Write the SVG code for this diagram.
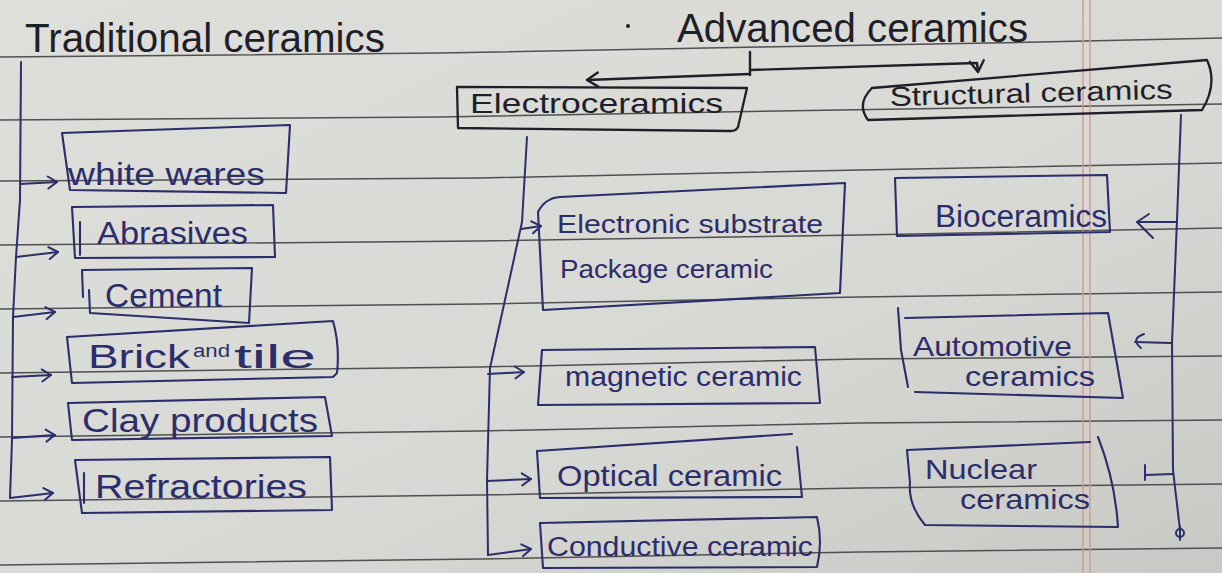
<svg xmlns="http://www.w3.org/2000/svg" width="1222" height="573" viewBox="0 0 1222 573">
  <defs>
    <linearGradient id="paper" x1="0" y1="0" x2="1" y2="1">
      <stop offset="0" stop-color="#dededa"/>
      <stop offset="0.6" stop-color="#d8d8d4"/>
      <stop offset="1" stop-color="#c8c8c4"/>
    </linearGradient>
    <marker id="chev" markerUnits="userSpaceOnUse" markerWidth="16" markerHeight="16" refX="12" refY="8" orient="auto">
      <path d="M3,2 L12,8 L3,14" fill="none" stroke="#2b2e6b" stroke-width="2" stroke-linecap="round" stroke-linejoin="round"/>
    </marker>
    <marker id="chevDark" markerUnits="userSpaceOnUse" markerWidth="18" markerHeight="18" refX="13" refY="9" orient="auto">
      <path d="M2,2 L13,9 L2,16" fill="none" stroke="#1f1f2a" stroke-width="2.4" stroke-linecap="round" stroke-linejoin="round"/>
    </marker>
  </defs>
  <style>
    .rule { stroke: #505050; stroke-width: 1.5; fill: none; }
    .margin { stroke: #d49a8f; stroke-width: 1.4; fill: none; }
    .box { fill: none; stroke: #2b2e6b; stroke-width: 2.1; stroke-linejoin: round; stroke-linecap: round; }
    .boxDark { fill: none; stroke: #1f1f2a; stroke-width: 2.3; stroke-linejoin: round; stroke-linecap: round; }
    .wire { fill: none; stroke: #2b2e6b; stroke-width: 2; stroke-linejoin: round; stroke-linecap: round; }
    .wireDark { fill: none; stroke: #1f1f2a; stroke-width: 2.4; stroke-linejoin: round; stroke-linecap: round; }
    .t { font-family: "Liberation Sans", "DejaVu Sans", sans-serif; fill: #2b2e6b; }
    .h { font-family: "Liberation Sans", "DejaVu Sans", sans-serif; fill: #1f1f2a; }
  </style>

  <!-- paper -->
  <rect x="0" y="0" width="1222" height="573" fill="url(#paper)"/>
  <g id="ruling">
    <path class="rule" d="M0,57 L440,53 L760,47 L1040,42 L1222,38"/>
    <path class="rule" d="M0,120 L440,117 L840,110 L1222,104"/>
    <path class="rule" d="M0,181 L480,178 L860,170 L1222,163"/>
    <path class="rule" d="M0,245 L480,241 L860,235 L1222,228"/>
    <path class="rule" d="M0,309 L480,304 L860,297 L1222,292"/>
    <path class="rule" d="M0,373 L480,367 L860,359 L1222,356"/>
    <path class="rule" d="M0,437 L480,431 L860,423 L1222,420"/>
    <path class="rule" d="M0,501 L480,495 L860,488 L1222,484"/>
    <path class="rule" d="M0,565 L480,559 L860,552 L1222,548"/>
    <line class="margin" x1="1083" y1="0" x2="1083" y2="573"/>
    <line class="margin" x1="1090" y1="0" x2="1090" y2="573"/>
  </g>

  <!-- connectors -->
  <g id="connectors">
    <!-- Traditional ceramics trunk -->
    <path class="wire" d="M21,62 L20,200 L16,257 L13,317 L12,440 L10,498"/>
    <path class="wire" d="M20,184 L57,182" marker-end="url(#chev)"/>
    <path class="wire" d="M16,257 L58,252" marker-end="url(#chev)"/>
    <path class="wire" d="M13,317 L55,312" marker-end="url(#chev)"/>
    <path class="wire" d="M12,377 L51,375" marker-end="url(#chev)"/>
    <path class="wire" d="M12,438 L55,435" marker-end="url(#chev)"/>
    <path class="wire" d="M10,498 L53,493" marker-end="url(#chev)"/>

    <!-- Advanced ceramics split -->
    <path class="wireDark" d="M750,52 L750,75"/>
    <path class="wireDark" d="M750,74 L587,80" marker-end="url(#chevDark)"/>
    <path class="wireDark" d="M750,70 L977,63 L978,72" marker-end="url(#chevDark)"/>

    <!-- Electroceramics trunk -->
    <path class="wire" d="M527,137 L522,222 L505,300 L490,368 L487,480 L488,555"/>
    <path class="wire" d="M521,229 L541,226" marker-end="url(#chev)"/>
    <path class="wire" d="M488,374 L524,372" marker-end="url(#chev)"/>
    <path class="wire" d="M487,481 L531,479" marker-end="url(#chev)"/>
    <path class="wire" d="M488,555 L531,549" marker-end="url(#chev)"/>

    <!-- Structural ceramics trunk -->
    <path class="wire" d="M1181,115 L1177,220 L1172,343 L1173,470 L1180,530"/>
    <circle class="wire" cx="1180" cy="533" r="4"/>
    <path class="wire" d="M1180,526 L1180,540"/>
    <path class="wire" d="M1177,222 L1137,222"/>
    <path class="wire" d="M1149,214 L1137,222 L1153,238"/>
    <path class="wire" d="M1171,343 L1135,342"/>
    <path class="wire" d="M1144,334 Q1130,339 1141,348"/>
    <path class="wire" d="M1173,474 L1145,475"/>
    <path class="wire" d="M1145,465 L1145,480"/>
  </g>

  <!-- headings -->
  <g id="traditional">
    <text class="h" x="25" y="52" font-size="40" textLength="360" lengthAdjust="spacingAndGlyphs">Traditional ceramics</text>
  </g>
  <g id="advanced">
    <circle cx="628" cy="26" r="2" fill="#1f1f2a"/>
    <text class="h" x="677" y="42" font-size="41" textLength="351" lengthAdjust="spacingAndGlyphs">Advanced ceramics</text>
  </g>
  <g id="electroceramics">
    <path class="boxDark" d="M457,87 L747,88 Q742,110 738,127 Q736,131 731,131 L458,128 Z"/>
    <text class="h" x="470" y="113" font-size="28" textLength="253" lengthAdjust="spacingAndGlyphs">Electroceramics</text>
  </g>
  <g id="structural">
    <path class="boxDark" d="M872,88 L1207,60 Q1218,84 1202,110 L868,120 Q856,104 872,88"/>
    <text class="h" x="890" y="106" font-size="27" textLength="283" lengthAdjust="spacingAndGlyphs" transform="rotate(-1.5 890 106)">Structural ceramics</text>
  </g>

  <!-- traditional items -->
  <g id="white-wares">
    <path class="box" d="M62,133 L290,125 L286,193 L70,190 Z"/>
    <text class="t" x="68" y="185" font-size="31" textLength="197" lengthAdjust="spacingAndGlyphs">white wares</text>
  </g>
  <g id="abrasives">
    <path class="box" d="M72,207 L273,205 L275,257 L75,258 Z"/>
    <path class="box" d="M80,222 L80,255"/>
    <text class="t" x="97" y="244" font-size="31" textLength="151" lengthAdjust="spacingAndGlyphs">Abrasives</text>
  </g>
  <g id="cement">
    <path class="box" d="M83,297 L82,270 L252,268 L249,323 L90,313 L89,290"/>
    <text class="t" x="105" y="307" font-size="33" textLength="117" lengthAdjust="spacingAndGlyphs">Cement</text>
  </g>
  <g id="brick-tile">
    <path class="box" d="M67,337 L333,321 Q340,346 337,373 L333,377 L72,383 Z"/>
    <text class="t" x="88" y="368" font-size="33"><tspan textLength="102" lengthAdjust="spacingAndGlyphs">Brick</tspan><tspan x="193" y="357" font-size="18" textLength="37" lengthAdjust="spacingAndGlyphs">and</tspan><tspan x="234" y="368" textLength="82" lengthAdjust="spacingAndGlyphs">tile</tspan></text>
  </g>
  <g id="clay-products">
    <path class="box" d="M68,403 L325,397 L332,436 L72,440 Z"/>
    <text class="t" x="82" y="432" font-size="33" textLength="236" lengthAdjust="spacingAndGlyphs">Clay products</text>
  </g>
  <g id="refractories">
    <path class="box" d="M75,460 L330,457 L332,510 L82,513 Z"/>
    <path class="box" d="M84,473 L84,503"/>
    <text class="t" x="95" y="498" font-size="33" textLength="212" lengthAdjust="spacingAndGlyphs">Refractories</text>
  </g>

  <!-- electroceramics items -->
  <g id="electronic-substrate">
    <path class="box" d="M538,212 Q545,198 560,197 L845,183 L840,293 L543,310 Z"/>
    <text class="t" x="557" y="233" font-size="26" textLength="266" lengthAdjust="spacingAndGlyphs">Electronic substrate</text>
    <text class="t" x="560" y="278" font-size="26" textLength="213" lengthAdjust="spacingAndGlyphs">Package ceramic</text>
  </g>
  <g id="magnetic">
    <path class="box" d="M542,350 L815,347 L820,403 L538,405 Z"/>
    <text class="t" x="565" y="386" font-size="27" textLength="237" lengthAdjust="spacingAndGlyphs">magnetic ceramic</text>
  </g>
  <g id="optical">
    <path class="box" d="M537,451 L792,434 M797,447 L802,497 L540,498 L537,451"/>
    <text class="t" x="557" y="486" font-size="29" textLength="225" lengthAdjust="spacingAndGlyphs">Optical ceramic</text>
  </g>
  <g id="conductive">
    <path class="box" d="M540,523 L817,517 Q823,542 817,567 L543,568 Z"/>
    <text class="t" x="547" y="556" font-size="27" textLength="266" lengthAdjust="spacingAndGlyphs">Conductive ceramic</text>
  </g>

  <!-- structural items -->
  <g id="bioceramics">
    <path class="box" d="M895,178 L1107,175 L1110,232 L897,236 Z"/>
    <text class="t" x="935" y="227" font-size="31" textLength="172" lengthAdjust="spacingAndGlyphs">Bioceramics</text>
  </g>
  <g id="automotive">
    <path class="box" d="M905,318 L1108,313 L1123,398 L915,392"/>
    <path class="box" d="M898,308 L901,350 L908,387"/>
    <text class="t" x="913" y="356" font-size="28" textLength="159" lengthAdjust="spacingAndGlyphs">Automotive</text>
    <text class="t" x="965" y="386" font-size="28" textLength="130" lengthAdjust="spacingAndGlyphs">ceramics</text>
  </g>
  <g id="nuclear">
    <path class="box" d="M907,450 L1090,442 M1098,437 Q1115,480 1118,527 L925,525 Q908,505 910,483 L907,450"/>
    <text class="t" x="925" y="479" font-size="28" textLength="112" lengthAdjust="spacingAndGlyphs">Nuclear</text>
    <text class="t" x="960" y="509" font-size="28" textLength="130" lengthAdjust="spacingAndGlyphs">ceramics</text>
  </g>
</svg>
